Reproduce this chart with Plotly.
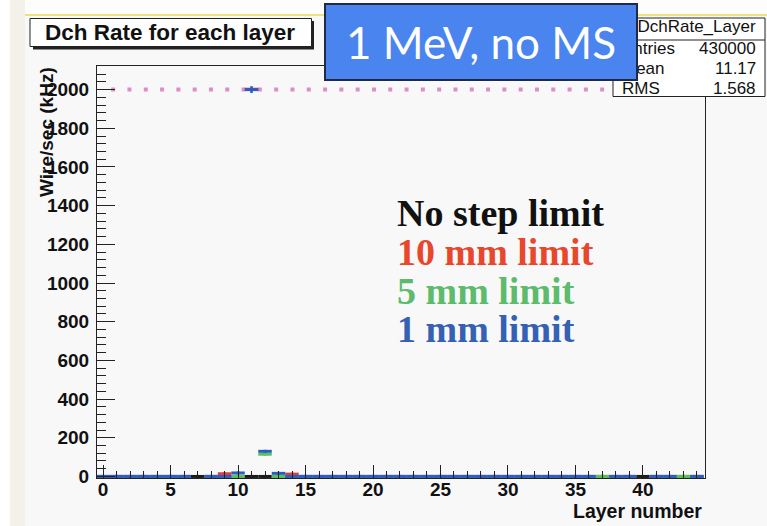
import plotly.graph_objects as go

# ---- data -------------------------------------------------------------
layers = list(range(45))

# rate per layer (kHz); None = empty bin (not drawn)
no_limit = [0] * 45
mm10 = [0] * 45
mm5 = [0] * 45
mm1 = [0] * 45

for i in (7, 11, 40):
    mm5[i] = None
for i in (7, 12, 40):
    mm10[i] = None
for i in (7, 37, 40, 43):
    mm1[i] = None

mm10[9] = 14
mm10[11] = 2002
mm10[14] = 12
mm5[12] = 115
mm1[10] = 18
mm1[11] = 2000
mm1[12] = 130
mm1[13] = 16

mm1_err = [0] * 45
mm1_err[11] = 18

ref_level = 2000          # dotted reference rate
ref_span = [0.6, 44.5]

y_ticks = list(range(0, 2001, 200))
x_ticks = list(range(0, 41, 5))

stats_name = "hDchRate_Layer"
stats_rows = [("Entries", "430000"), ("Mean", "11.17"), ("RMS", "1.568")]

legend_lines = [("No step limit", "#111111"), ("10 mm limit", "#e8472c"),
                ("5 mm limit", "#5dbb6c"), ("1 mm limit", "#3461b4")]

series = [("No step limit", no_limit, "#1a1a1a", None),
          ("10 mm limit", mm10, "#e23c36", None),
          ("5 mm limit", mm5, "#55c25a", None),
          ("1 mm limit", mm1, "#2d5cc4", mm1_err)]

# ---- geometry helpers (page pixels -> paper coords) -------------------
WIDTH, HEIGHT = 767, 526
L, R, T, B = 97, 705, 66, 478
PW, PH = R - L, B - T


def px(x):
    return (x - L) / PW


def py(y):
    return (B - y) / PH


fig = go.Figure()

fig.add_trace(go.Scatter(
    x=ref_span, y=[ref_level, ref_level], mode="lines",
    line=dict(color="#da8fc6", width=4, dash="4px,12.3px"),
    hoverinfo="skip", showlegend=False))

for name, vals, col, err in series:
    kw = {}
    if err is not None:
        kw["error_y"] = dict(type="data", array=err, symmetric=True,
                             color=col, thickness=2.5, width=0)
    fig.add_trace(go.Scatter(
        x=layers, y=vals, mode="markers", name=name,
        marker=dict(color=col, size=3, symbol="square"),
        error_x=dict(type="constant", value=0.5, symmetric=True,
                     color=col, thickness=3, width=0),
        showlegend=False, **kw))

shapes = []
# page background bands
shapes.append(dict(type="rect", xref="paper", yref="paper",
                   x0=px(0), x1=px(10), y0=py(526), y1=py(0),
                   fillcolor="#ffffff", line_width=0, layer="below"))
shapes.append(dict(type="rect", xref="paper", yref="paper",
                   x0=px(10), x1=px(25), y0=py(526), y1=py(0),
                   fillcolor="#f4f1ea", line_width=0, layer="below"))
shapes.append(dict(type="rect", xref="paper", yref="paper",
                   x0=px(25), x1=px(767), y0=py(14), y1=py(0),
                   fillcolor="#fdfdfd", line_width=0, layer="below"))
shapes.append(dict(type="line", xref="paper", yref="paper",
                   x0=px(25), x1=px(767), y0=py(15), y1=py(15),
                   line=dict(color="#eee27a", width=2), layer="below"))

# title pave with shadow
shapes.append(dict(type="rect", xref="paper", yref="paper",
                   x0=px(33), x1=px(314), y0=py(49.5), y1=py(21),
                   fillcolor="#222222", line_width=0, layer="above"))
shapes.append(dict(type="rect", xref="paper", yref="paper",
                   x0=px(30), x1=px(311.5), y0=py(46.5), y1=py(18.5),
                   fillcolor="#ffffff", line=dict(color="#222222", width=1),
                   layer="above"))

# statistics box
shapes.append(dict(type="rect", xref="paper", yref="paper",
                   x0=px(613), x1=px(765), y0=py(96.5), y1=py(18),
                   fillcolor="#ffffff", line=dict(color="#222222", width=1),
                   layer="above"))
shapes.append(dict(type="line", xref="paper", yref="paper",
                   x0=px(613), x1=px(765), y0=py(40), y1=py(40),
                   line=dict(color="#222222", width=1), layer="above"))

annotations = []
annotations.append(dict(xref="paper", yref="paper", x=px(170), y=py(32.5),
                        text="Dch Rate for each layer", showarrow=False,
                        xanchor="center", yanchor="middle",
                        font=dict(family="Liberation Sans", size=22.5,
                                  color="#111111", weight="bold")))

# statistics text
stat_font = dict(family="Liberation Sans", size=17, color="#111111")
annotations.append(dict(xref="paper", yref="paper", x=px(692), y=py(27),
                        text=stats_name, showarrow=False,
                        xanchor="center", yanchor="middle", font=stat_font))
for k, (lab, val) in enumerate(stats_rows):
    yy = py(48.5 + k * 20)
    annotations.append(dict(xref="paper", yref="paper", x=px(620), y=yy,
                            text=lab, showarrow=False, xanchor="left",
                            yanchor="middle", font=stat_font))
    annotations.append(dict(xref="paper", yref="paper", x=px(758), y=yy,
                            text=val, showarrow=False, xanchor="right",
                            yanchor="middle", font=stat_font))

# highlighted run label
annotations.append(dict(xref="paper", yref="paper", x=px(480.5), y=py(42.5),
                        text="1 MeV, no MS", showarrow=False,
                        xanchor="center", yanchor="middle",
                        width=310, height=74, borderpad=0,
                        bgcolor="#4a84ef", bordercolor="#1f2a44",
                        borderwidth=2,
                        font=dict(family="Lato", size=44, color="#ffffff")))

# axis titles
annotations.append(dict(xref="paper", yref="paper", x=px(46), y=py(132),
                        text="Wire/sec (kHz)", textangle=-90, showarrow=False,
                        xanchor="center", yanchor="middle",
                        font=dict(family="Liberation Sans", size=19,
                                  color="#111111", weight="bold")))
annotations.append(dict(xref="paper", yref="paper", x=px(704), y=py(511),
                        text="Layer number", showarrow=False,
                        xanchor="right", yanchor="middle",
                        font=dict(family="Liberation Sans", size=19.5,
                                  color="#111111", weight="bold")))

# legend text
for k, (txt, col) in enumerate(legend_lines):
    annotations.append(dict(xref="paper", yref="paper", x=px(395),
                            y=py(213 + k * 38.8), text=txt, showarrow=False,
                            xanchor="left", yanchor="middle",
                            font=dict(family="Liberation Serif", size=38,
                                      color=col, weight="bold")))

fig.update_layout(
    width=WIDTH, height=HEIGHT,
    margin=dict(l=L, r=WIDTH - R, t=T, b=HEIGHT - B, pad=0),
    paper_bgcolor="#f9f8f9", plot_bgcolor="#f9f8f9",
    shapes=shapes, annotations=annotations, showlegend=False,
)

tick_font = dict(family="Liberation Sans", size=19, color="#111111",
                 weight="bold")

fig.update_xaxes(
    range=[-0.45, 44.6], showgrid=False, zeroline=False,
    showline=True, linecolor="#222222", linewidth=1, mirror=True,
    tickmode="array", tickvals=x_ticks, ticks="inside", ticklen=13,
    tickcolor="#222222", tickfont=tick_font, ticklabelstandoff=-6,
    minor=dict(dtick=1, tick0=0, ticks="inside", ticklen=7,
               tickcolor="#222222"),
)
fig.update_yaxes(
    range=[-8, 2122], showgrid=False, zeroline=False,
    showline=True, linecolor="#222222", linewidth=1, mirror=True,
    tickmode="array", tickvals=y_ticks, ticks="inside", ticklen=18,
    tickcolor="#222222", tickfont=tick_font, ticklabelstandoff=3,
    minor=dict(dtick=40, tick0=0, ticks="inside", ticklen=9,
               tickcolor="#222222"),
)

fig.write_html("out.html")
